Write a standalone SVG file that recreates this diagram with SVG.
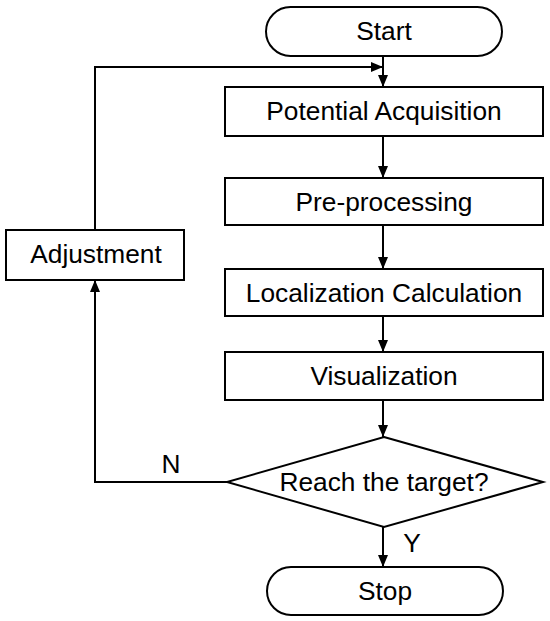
<svg xmlns="http://www.w3.org/2000/svg" width="550" height="621" viewBox="0 0 550 621">
<defs>
<marker id="arr" markerWidth="12" markerHeight="10" refX="12" refY="5" orient="auto" markerUnits="userSpaceOnUse">
<path d="M0,0 L12,5 L0,10 Z" fill="#000"/>
</marker>
<style>
.s{fill:#fff;stroke:#000;stroke-width:2}
.t{font-family:"Liberation Sans",Arial,sans-serif;font-size:26.3px;text-anchor:middle;fill:#000}
.c{fill:none;stroke:#000;stroke-width:2}
</style>
</defs>
<rect width="550" height="621" fill="#fff"/>
<g id="connectors">
<line class="c" x1="383" y1="56" x2="383" y2="87" marker-end="url(#arr)"/>
<line class="c" x1="383" y1="136" x2="383" y2="178" marker-end="url(#arr)"/>
<line class="c" x1="383" y1="225" x2="383" y2="269" marker-end="url(#arr)"/>
<line class="c" x1="383" y1="316" x2="383" y2="352" marker-end="url(#arr)"/>
<line class="c" x1="383" y1="400" x2="383" y2="437" marker-end="url(#arr)"/>
<line class="c" x1="383" y1="527" x2="383" y2="567" marker-end="url(#arr)"/>
<polyline class="c" points="227,482 95,482 95,280" marker-end="url(#arr)"/>
<polyline class="c" points="95,230 95,67 383,67" marker-end="url(#arr)"/>
<text class="t" x="171" y="473">N</text>
<text class="t" x="412" y="552">Y</text>
</g>
<g id="start">
<rect class="s" x="266" y="7" width="236" height="49" rx="24.5"/>
<text class="t" x="384" y="40">Start</text>
</g>
<g id="acq">
<rect class="s" x="225" y="87" width="318" height="49"/>
<text class="t" x="384" y="120">Potential Acquisition</text>
</g>
<g id="pre">
<rect class="s" x="225" y="178" width="318" height="47"/>
<text class="t" x="384" y="211">Pre-processing</text>
</g>
<g id="loc">
<rect class="s" x="225" y="269" width="318" height="47"/>
<text class="t" x="384" y="302">Localization Calculation</text>
</g>
<g id="vis">
<rect class="s" x="225" y="352" width="318" height="48"/>
<text class="t" x="384" y="385">Visualization</text>
</g>
<g id="decision">
<polygon class="s" points="384,437 543,482 384,527 227,482"/>
<text class="t" x="384" y="491">Reach the target?</text>
</g>
<g id="stop">
<rect class="s" x="267" y="567" width="236" height="48" rx="24"/>
<text class="t" x="385" y="600">Stop</text>
</g>
<g id="adjust">
<rect class="s" x="6" y="230" width="178" height="50"/>
<text class="t" x="96" y="263">Adjustment</text>
</g>
</svg>
